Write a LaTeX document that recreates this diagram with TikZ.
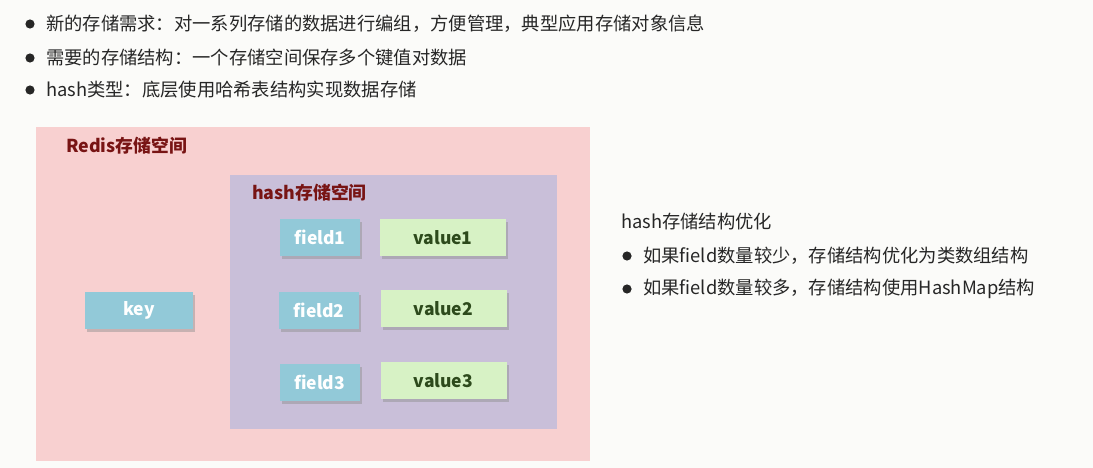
\documentclass[tikz,border=0pt]{standalone}
\usepackage{fontspec}
\setmainfont{Noto Sans CJK SC}
\usetikzlibrary{shadows}
\definecolor{textc}{HTML}{262626}
\definecolor{bgc}{HTML}{FBFBF9}
\definecolor{redisc}{HTML}{F8D0D0}
\definecolor{hashc}{HTML}{C9BFD9}
\definecolor{fieldc}{HTML}{92C9D8}
\definecolor{valuec}{HTML}{D7F2C5}
\definecolor{valtext}{HTML}{2D4A1C}
\definecolor{labelc}{HTML}{781414}
\begin{document}
\begin{tikzpicture}[x=1pt,y=-1pt,
  txt/.style={anchor=west, inner sep=0pt, font=\fontsize{18.3}{21}\selectfont, text=textc},
  bul/.style={fill=textc},
  space/.style={inner sep=0pt, draw=none},
  spacelabel/.style={anchor=west, inner sep=0pt, font=\bfseries\fontsize{17.8}{21}\selectfont, text=labelc},
  boxshadow/.style={drop shadow={shadow xshift=2pt, shadow yshift=-3pt, fill=black!45, opacity=0.45}},
  fieldbox/.style={fill=fieldc, text=white, font=\bfseries\fontsize{17.5}{20}\selectfont, minimum width=80pt, minimum height=37pt, inner sep=0pt, boxshadow},
  valuebox/.style={fill=valuec, text=valtext, font=\bfseries\fontsize{17.5}{20}\selectfont, minimum width=126pt, minimum height=37pt, inner sep=0pt, boxshadow}
]
\useasboundingbox (0,0) rectangle (1093,468);
\fill[bgc] (0,0) rectangle (1093,468);

% top bullets
\fill[bul] (30,24) circle (4.6pt);
\node[txt] (t1) at (46,24) {新的存储需求：对一系列存储的数据进行编组，方便管理，典型应用存储对象信息};
\fill[bul] (30,58) circle (4.6pt);
\node[txt] (t2) at (46,58) {需要的存储结构：一个存储空间保存多个键值对数据};
\fill[bul] (30,90) circle (4.6pt);
\node[txt] (t3) at (46,90) {hash类型：底层使用哈希表结构实现数据存储};

% redis space
\node[space, fill=redisc, minimum width=554pt, minimum height=334pt] (redis) at (313,294) {};
\node[spacelabel] (redislabel) at (66,146) {Redis存储空间};

% hash space
\node[space, fill=hashc, minimum width=327pt, minimum height=254pt] (hash) at (393.5,302) {};
\node[spacelabel] (hashlabel) at (252,193) {hash存储空间};

% key
\node[fieldbox, minimum width=108pt] (key) at (139,310.5) {key};

% fields and values
\node[fieldbox] (f1) at (320,237.5) {field1};
\node[valuebox] (v1) at (443,237.5) {value1};
\node[fieldbox] (f2) at (319,310) {field2};
\node[valuebox] (v2) at (443.5,308.5) {value2};
\node[fieldbox] (f3) at (319.5,382) {field3};
\node[valuebox] (v3) at (443.5,380.5) {value3};

% right text
\node[txt] (r0) at (621,222) {hash存储结构优化};
\fill[bul] (627,256) circle (4.6pt);
\node[txt] (r1) at (643,256) {如果field数量较少，存储结构优化为类数组结构};
\fill[bul] (627,289) circle (4.6pt);
\node[txt] (r2) at (643,289) {如果field数量较多，存储结构使用HashMap结构};
\end{tikzpicture}
\end{document}
